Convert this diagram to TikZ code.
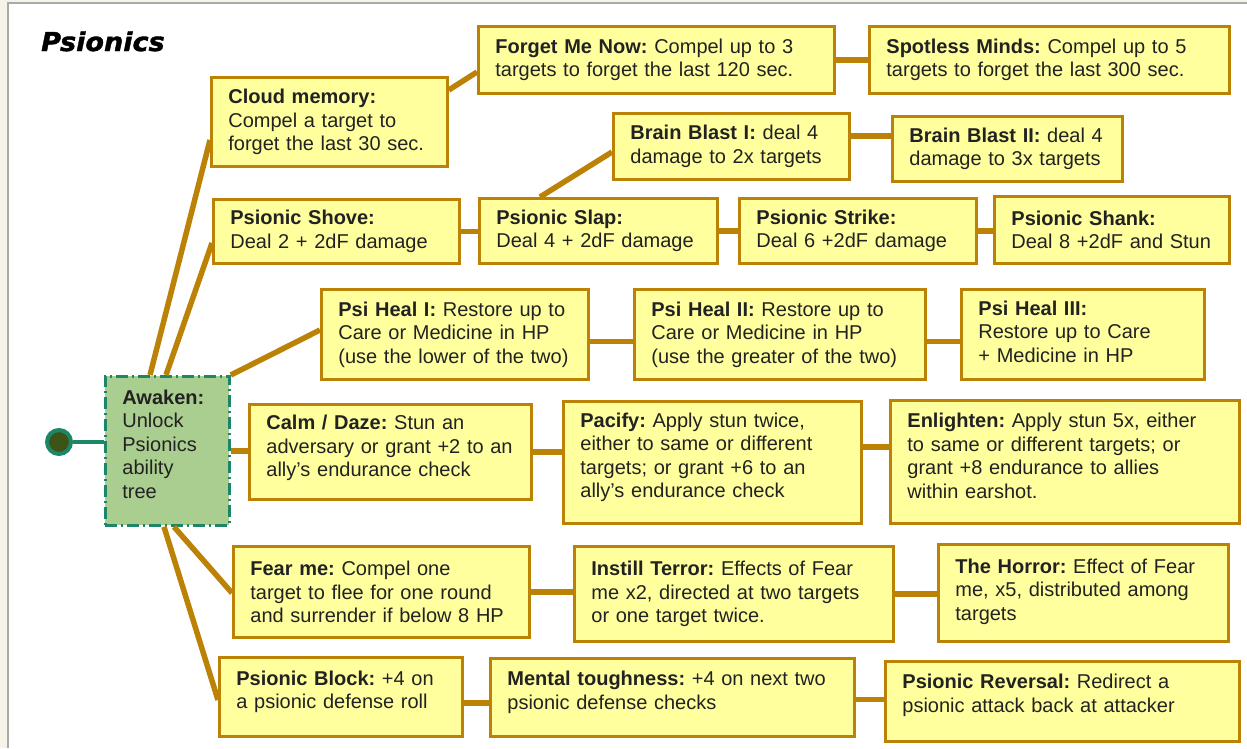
\documentclass[tikz,border=0pt]{standalone}
\usepackage{fontspec}
\setmainfont{Liberation Sans}
\newfontfamily\titlefamily{DejaVu Sans}[FakeBold=1.4, FakeStretch=1.04]
\usetikzlibrary{calc}

\definecolor{pagebeige}{RGB}{246,243,232}
\definecolor{pageedge}{RGB}{170,170,170}
\definecolor{linebrown}{RGB}{188,130,6}
\definecolor{boxyellow}{RGB}{255,255,158}
\definecolor{awakengreen}{RGB}{170,206,144}
\definecolor{awakenteal}{RGB}{30,134,104}
\definecolor{startolive}{RGB}{62,84,22}
\definecolor{skilltext}{RGB}{34,34,34}

\newcommand{\lift}[1]{\par\vspace*{#1}}

\tikzset{
  skill/.style={draw=linebrown, fill=boxyellow, line width=2.8pt, anchor=north west,
    align=left, inner xsep=17pt, inner ysep=4pt, text=skilltext,
    font=\frenchspacing\fontsize{20}{23.5}\selectfont},
  link/.style={draw=linebrown, line width=5.5pt},
}

\begin{document}
\begin{tikzpicture}[x=1pt,y=-1pt]
  \useasboundingbox (0,0) rectangle (1247,748);
  \fill[pagebeige] (0,0) rectangle (1247,748);
  \fill[white] (8,3) rectangle (1247,748);
  \draw[pageedge, line width=1.2pt] (8,748) -- (8,3) -- (1247,3);

  \node[anchor=base west, inner sep=0pt, text=black,
        font=\titlefamily\bfseries\itshape\fontsize{26}{30}\selectfont] (title) at (41,51) {Psionics};

  \node[circle, draw=awakenteal, fill=startolive, line width=4pt, minimum size=24pt, inner sep=0pt] (start) at (59,442) {};

  \node[skill, draw=awakenteal, fill=awakengreen, dash pattern=on 12pt off 4pt on 2pt off 4pt,
        text width=90pt, minimum height=149pt] (awaken) at (104,375)
        {\textbf{Awaken:}\\Unlock\\Psionics\\ability\\tree\lift{14pt}};

  \node[skill, text width=202pt, minimum height=89pt] (cloud) at (210,76)
        {\textbf{Cloud memory:}\\Compel a target to\\forget the last 30 sec.};
  \node[skill, text width=322pt, minimum height=67pt] (forget) at (477,25)
        {\textbf{Forget Me Now:} Compel up to 3\\targets to forget the last 120 sec.};
  \node[skill, text width=326pt, minimum height=67pt] (spotless) at (868,25)
        {\textbf{Spotless Minds:} Compel up to 5\\targets to forget the last 300 sec.};

  \node[skill, text width=202pt, minimum height=66pt] (blastA) at (612,112)
        {\textbf{Brain Blast I:} deal 4\\damage to 2x targets};
  \node[skill, text width=196pt, minimum height=65pt] (blastB) at (891,115)
        {\textbf{Brain Blast II:} deal 4\\damage to 3x targets};

  \node[skill, text width=212pt, minimum height=64pt] (shove) at (212,198)
        {\textbf{Psionic Shove:}\\Deal 2 + 2dF damage};
  \node[skill, text width=204pt, minimum height=65pt] (slap) at (478,197)
        {\textbf{Psionic Slap:}\\Deal 4 + 2dF damage};
  \node[skill, text width=203pt, minimum height=65pt] (strike) at (738,197)
        {\textbf{Psionic Strike:}\\Deal 6 +2dF damage};
  \node[skill, text width=201pt, minimum height=67pt] (shank) at (993,195)
        {\textbf{Psionic Shank:}\\Deal 8 +2dF and Stun};

  \node[skill, text width=233pt, minimum height=90pt] (healA) at (320,288)
        {\textbf{Psi Heal I:} Restore up to\\Care or Medicine in HP\\(use the lower of the two)};
  \node[skill, text width=257pt, minimum height=90pt] (healB) at (633,288)
        {\textbf{Psi Heal II:} Restore up to\\Care or Medicine in HP\\(use the greater of the two)};
  \node[skill, text width=209pt, minimum height=90pt] (healC) at (960,288)
        {\textbf{Psi Heal III:}\\Restore up to Care\\+ Medicine in HP\lift{6pt}};

  \node[skill, text width=248pt, minimum height=95pt] (calm) at (248,403)
        {\textbf{Calm / Daze:} Stun an\\adversary or grant +2 to an\\ally's endurance check\lift{8pt}};
  \node[skill, text width=264pt, minimum height=122pt] (pacify) at (562,400)
        {\textbf{Pacify:} Apply stun twice,\\either to same or different\\targets; or grant +6 to an\\ally's endurance check\lift{10pt}};
  \node[skill, text width=315pt, minimum height=123pt] (enlighten) at (889,399)
        {\textbf{Enlighten:} Apply stun 5x, either\\to same or different targets; or\\grant +8 endurance to allies\\within earshot.\lift{12pt}};

  \node[skill, text width=262pt, minimum height=91pt] (fear) at (232,545)
        {\textbf{Fear me:} Compel one\\target to flee for one round\\and surrender if below 8 HP};
  \node[skill, text width=285pt, minimum height=95pt] (terror) at (573,545)
        {\textbf{Instill Terror:} Effects of Fear\\me x2, directed at two targets\\or one target twice.};
  \node[skill, text width=256pt, minimum height=97pt] (horror) at (937,543)
        {\textbf{The Horror:} Effect of Fear\\me, x5, distributed among\\targets\lift{3pt}};

  \node[skill, text width=209pt, minimum height=79pt] (block) at (218,656)
        {\textbf{Psionic Block:} +4 on\\a psionic defense roll\lift{10pt}};
  \node[skill, text width=330pt, minimum height=78pt] (tough) at (489,657)
        {\textbf{Mental toughness:} +4 on next two\\psionic defense checks\lift{10pt}};
  \node[skill, text width=320pt, minimum height=80pt] (reversal) at (884,660)
        {\textbf{Psionic Reversal:} Redirect a\\psionic attack back at attacker\lift{12pt}};

  \coordinate (blastjoin) at ($(blastA.north east)+(0,24)$);
  \coordinate (healjoinA) at ($(healA.east)+(0,7)$);
  \coordinate (healjoinB) at ($(healB.east)+(0,7)$);
  \coordinate (pacifyjoin) at ($(pacify.north east)+(0,47)$);
  \coordinate (blockjoin) at ($(block.east)+(0,6)$);
  \coordinate (toughjoin) at ($(tough.east)+(0,2)$);

  \draw[awakenteal, line width=4pt] (start.east) -- (start.east -| awaken.west);

  \draw[link] ($(awaken.north west)+(46,0)$) -- ($(cloud.north west)+(0,64)$);
  \draw[link] ($(awaken.north west)+(62,0)$) -- ($(shove.north west)+(0,45)$);
  \draw[link] (awaken.north east) -- ($(healA.north west)+(0,42)$);
  \draw[link] (awaken.east) -- (awaken.east -| calm.west);
  \draw[link] ($(awaken.south west)+(70,0)$) -- ($(fear.north west)+(0,48)$);
  \draw[link] ($(awaken.south west)+(60,0)$) -- ($(block.north west)+(0,44)$);

  \draw[link] ($(cloud.north east)+(0,14)$) -- ($(forget.north west)+(0,47)$);
  \draw[link] (forget.east) -- (forget.east -| spotless.west);

  \draw[link] ($(slap.north west)+(62,0)$) -- ($(blastA.north west)+(0,40)$);
  \draw[link] (blastjoin) -- (blastjoin -| blastB.west);

  \draw[link] (shove.east) -- (shove.east -| slap.west);
  \draw[link] (slap.east) -- (slap.east -| strike.west);
  \draw[link] (strike.east) -- (strike.east -| shank.west);

  \draw[link] (healjoinA) -- (healjoinA -| healB.west);
  \draw[link] (healjoinB) -- (healjoinB -| healC.west);

  \draw[link] (calm.east) -- (calm.east -| pacify.west);
  \draw[link] (pacifyjoin) -- (pacifyjoin -| enlighten.west);

  \draw[link] (fear.east) -- (fear.east -| terror.west);
  \draw[link] (terror.east) -- (terror.east -| horror.west);

  \draw[link] (blockjoin) -- (blockjoin -| tough.west);
  \draw[link] (toughjoin) -- (toughjoin -| reversal.west);
\end{tikzpicture}
\end{document}
